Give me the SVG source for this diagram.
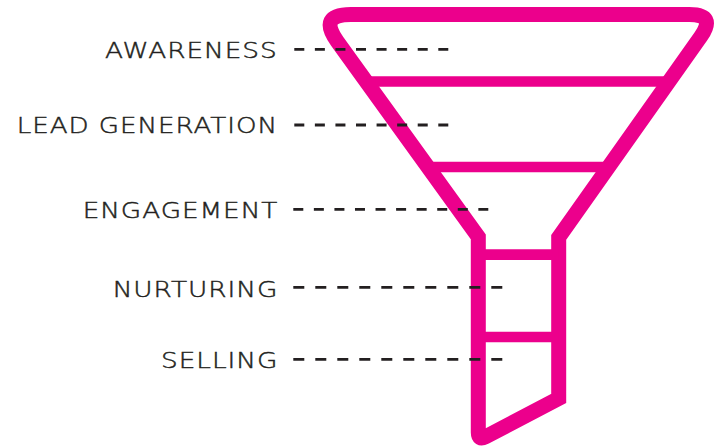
<svg xmlns="http://www.w3.org/2000/svg" width="722" height="447" viewBox="0 0 722 447">
  <style>
    .wall { fill: none; stroke: #EC008C; stroke-width: 15; stroke-linejoin: miter; }
    .bar { stroke: #EC008C; stroke-width: 10.7; stroke-linecap: butt; }
    .lbl { font-family: "DejaVu Sans", "Liberation Sans", Arial, sans-serif; font-weight: 200; font-size: 22px; fill: #231F20; stroke: #231F20; stroke-width: 0.45; letter-spacing: 0.8px; }
    .dash { stroke: #231F20; stroke-width: 2.8; fill: none; }
  </style>
  <rect width="722" height="447" fill="#FFFFFF"/>
  <g id="funnel">
    <path class="wall" d="M 478.3 236.9 L 337.2 41.3 Q 317.9 14.5 350.9 14.5 L 689.4 14.5 Q 716.4 14.5 700.8 36.5 L 558.7 237.5 L 558.7 398.5 L 485.4 436.8 Q 478.3 440.5 478.3 432.5 L 478.3 236.9 Z"/>
    <line class="bar" x1="366.4" y1="81.5" x2="669" y2="81.5"/>
    <line class="bar" x1="428" y1="167" x2="608.5" y2="167"/>
    <line class="bar" x1="478.3" y1="254.7" x2="558.7" y2="254.7"/>
    <line class="bar" x1="478.3" y1="337" x2="558.7" y2="337"/>
  </g>
  <g id="label-awareness"><text class="lbl" x="105" y="58.3" textLength="172.7" lengthAdjust="spacingAndGlyphs">AWARENESS</text></g>
  <g id="label-lead-generation"><text class="lbl" x="16.7" y="133.3" textLength="261.3" lengthAdjust="spacingAndGlyphs">LEAD GENERATION</text></g>
  <g id="label-engagement"><text class="lbl" x="82.7" y="218.3" textLength="195.6" lengthAdjust="spacingAndGlyphs">ENGAGEMENT</text></g>
  <g id="label-nurturing"><text class="lbl" x="112.7" y="296.5" textLength="165.6" lengthAdjust="spacingAndGlyphs">NURTURING</text></g>
  <g id="label-selling"><text class="lbl" x="161" y="368.3" textLength="117.3" lengthAdjust="spacingAndGlyphs">SELLING</text></g>
  <g id="connectors">
    <line class="dash" x1="294.3" y1="49.3" x2="448.3" y2="49.3" stroke-dasharray="10 10.57"/>
    <line class="dash" x1="294.3" y1="125" x2="448.3" y2="125" stroke-dasharray="10 10.57"/>
    <line class="dash" x1="293.3" y1="209.3" x2="488.3" y2="209.3" stroke-dasharray="10 10.56"/>
    <line class="dash" x1="293.3" y1="287.3" x2="502.3" y2="287.3" stroke-dasharray="11 11"/>
    <line class="dash" x1="293.3" y1="359.3" x2="502.3" y2="359.3" stroke-dasharray="11 11"/>
  </g>
</svg>
